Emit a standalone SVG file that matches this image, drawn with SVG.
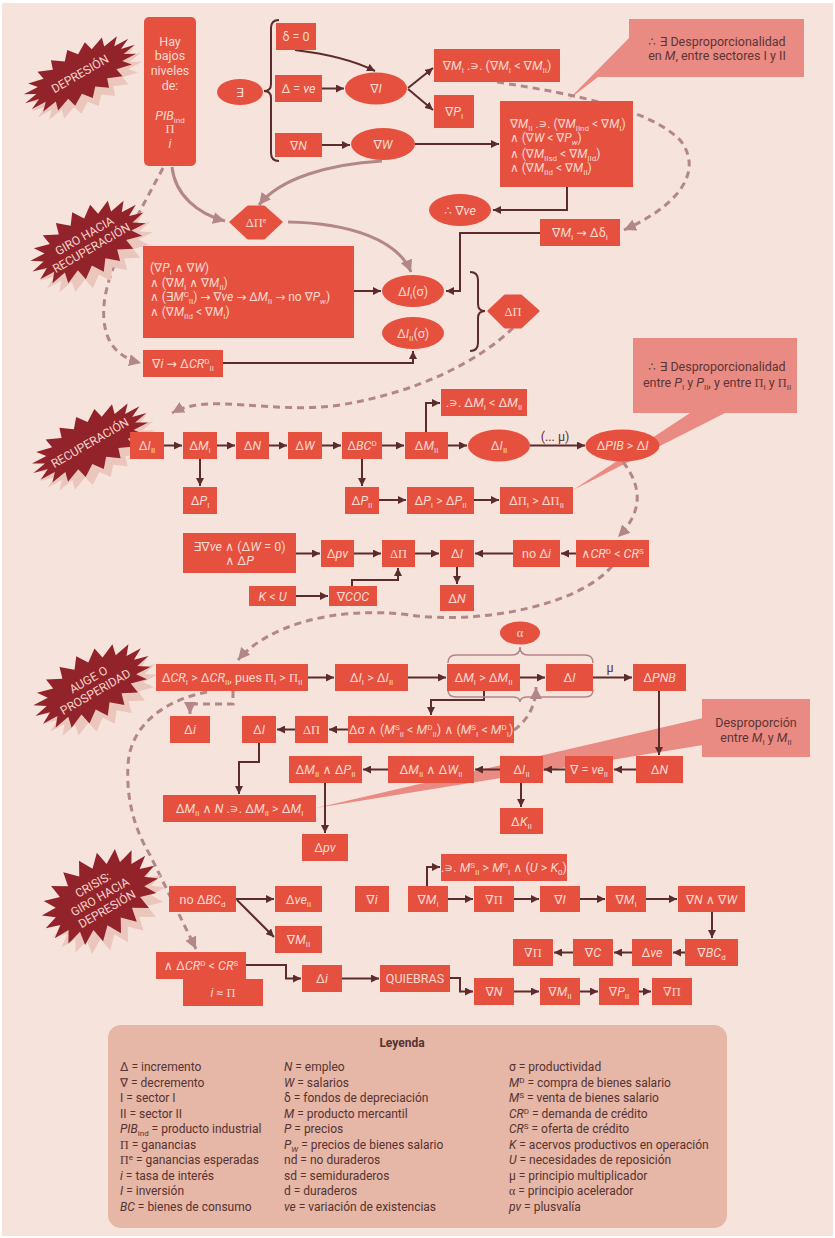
<svg xmlns="http://www.w3.org/2000/svg" width="835" height="1238" viewBox="0 0 835 1238">
<style>
.b{fill:#e6513f}
.t{font-family:Roboto,"Liberation Sans","DejaVu Sans",sans-serif;font-size:12.5px;fill:#fbd9cf;text-anchor:middle}
.tl{font-family:Roboto,"Liberation Sans","DejaVu Sans",sans-serif;font-size:12px;fill:#fbd9cf}
.i{font-style:italic}
.s{font-size:8px;baseline-shift:-2.5px}
.p{font-size:8px;baseline-shift:4px}
.g{font-family:"Liberation Serif","DejaVu Serif",serif}
.ar{font-family:"DejaVu Sans",sans-serif}
.c{stroke:#5c2b2b;stroke-width:2;fill:none;marker-end:url(#a)}
.d{stroke:#b3868a;stroke-width:3;fill:none;stroke-dasharray:7 5;marker-end:url(#m)}
.m{stroke:#b3868a;stroke-width:3;fill:none;marker-end:url(#m)}
.br{stroke:#5c2b2b;stroke-width:2;fill:none}
.bra{stroke:#b3868a;stroke-width:1.5;fill:none}
.co{fill:#ea8b83}
.ct{font-family:Roboto,"Liberation Sans","DejaVu Sans",sans-serif;font-size:12.5px;fill:#5c3434;text-anchor:middle}
.bu{fill:#93232b}
.sh{fill:#ebc6bc}
.bt{font-family:Roboto,"Liberation Sans","DejaVu Sans",sans-serif;font-size:12px;fill:#f5d3ca;text-anchor:middle}
.l{font-family:Roboto,"Liberation Sans","DejaVu Sans",sans-serif;font-size:12px;fill:#553330}
.dk{font-family:Roboto,"Liberation Sans","DejaVu Sans",sans-serif;font-size:12.5px;fill:#5c3434;text-anchor:middle}
</style>
<defs>
<marker id="a" viewBox="0 0 10 10" refX="10" refY="5" markerWidth="8" markerHeight="8" markerUnits="userSpaceOnUse" orient="auto"><path d="M0,0 L10,5 L0,10 Z" fill="#5c2b2b"/></marker>
<marker id="m" viewBox="0 0 10 10" refX="10" refY="5" markerWidth="12" markerHeight="12" markerUnits="userSpaceOnUse" orient="auto"><path d="M0,0 L10,5 L0,10 Z" fill="#b3868a"/></marker>
<path id="burst" d="M64,0 L49.4,3 L60.9,8.7 L44.6,8.6 L51.8,16.5 L35.4,13.4 L37.6,22.7 L22.7,16.9 L19.8,26.6 L7.8,18.8 L0,28 L-7.8,18.8 L-19.8,26.6 L-22.7,16.9 L-37.6,22.7 L-35.4,13.4 L-51.8,16.5 L-44.6,8.6 L-60.9,8.7 L-49.4,3 L-64,0 L-49.4,-3 L-60.9,-8.7 L-44.6,-8.6 L-51.8,-16.5 L-35.4,-13.4 L-37.6,-22.7 L-22.7,-16.9 L-19.8,-26.6 L-7.8,-18.8 L0,-28 L7.8,-18.8 L19.8,-26.6 L22.7,-16.9 L37.6,-22.7 L35.4,-13.4 L51.8,-16.5 L44.6,-8.6 L60.9,-8.7 L49.4,-3 Z"/>
</defs>
<rect x="0" y="0" width="835" height="1238" fill="#ffffff"/>
<rect x="2" y="3" width="831" height="1233" fill="#f5e3dc"/>

<g id="callout-tails">
<polygon class="co" points="629,38 568,100 598,77 629,77"/>
<polygon class="co" points="573,490 725,413 690,413"/>
<polygon class="co" points="316,808 703,718 703,745"/>
</g>

<g id="connectors">
<path class="c" d="M295,50 Q345,56 375,71"/>
<path class="c" d="M322,88.5 L344,88.5"/>
<path class="c" d="M322,145 L350,145"/>
<path class="c" d="M408,88 L433,68"/>
<path class="c" d="M408,89 L433,110"/>
<path class="c" d="M415,144 L499,144"/>
<path class="c" d="M567,187 L567,210 L493,210"/>
<path class="c" d="M540,233 L460,233 L460,291 L446,291"/>
<path class="c" d="M354,291 L381,291"/>
<path class="c" d="M223,363 L413,363 L413,351"/>
<path class="m" d="M172,167 C175,195 198,214 225,221"/>
<path class="m" d="M382,161 C330,164 280,178 259,205"/>
<path class="m" d="M288,222 C350,223 398,240 411,272"/>
<path class="d" d="M497,82 C580,95 650,110 680,140 C700,165 690,200 624,230"/>
<path class="d" d="M163,168 C130,230 100,280 104,320 C106,345 120,358 141,363"/>
<path class="d" d="M513,328 C480,360 420,392 340,405 C270,415 210,392 172,413"/>

<path class="c" d="M164,445.5 L182,445.5"/>
<path class="c" d="M217,445.5 L235,445.5"/>
<path class="c" d="M269,445.5 L287,445.5"/>
<path class="c" d="M322,445.5 L341,445.5"/>
<path class="c" d="M382,445.5 L404,445.5"/>
<path class="c" d="M448,445.5 L467,445.5"/>
<path class="c" d="M530,445.5 L585,445.5"/>
<path class="c" d="M426,432 L426,403 L440,403"/>
<path class="c" d="M200,459 L200,486"/>
<path class="c" d="M362,459 L362,486"/>
<path class="c" d="M379,500 L406,500"/>
<path class="c" d="M474,500 L499,500"/>
<path class="c" d="M296,553.5 L320,553.5"/>
<path class="c" d="M354,553.5 L381,553.5"/>
<path class="c" d="M415,553.5 L439,553.5"/>
<path class="c" d="M513,553.5 L475,553.5"/>
<path class="c" d="M576,553.5 L561,553.5"/>
<path class="c" d="M457,567 L457,584"/>
<path class="c" d="M296,596 L328,596"/>
<path class="c" d="M352,586 L352,580 L398,580 L398,568"/>
<path class="d" d="M623,462 C645,490 640,515 618,537"/>
<path class="d" d="M612,566 C580,605 480,625 410,615 C330,605 265,628 238,660"/>

<path class="c" d="M308,677.5 L334,677.5"/>
<path class="c" d="M408,677.5 L446,677.5"/>
<path class="c" d="M520,677.5 L545,677.5"/>
<path class="c" d="M593,677.5 L632,677.5"/>
<path class="c" d="M484,691 L484,700 L431,700 L431,715"/>
<path class="c" d="M348,729.5 L329,729.5"/>
<path class="c" d="M295,729.5 L277,729.5"/>
<path class="c" d="M259,743 L259,762 L239,762 L239,794"/>
<path class="c" d="M659,691 L659,755"/>
<path class="c" d="M636,769.5 L614,769.5"/>
<path class="c" d="M565,769.5 L544,769.5"/>
<path class="c" d="M500,769.5 L475,769.5"/>
<path class="c" d="M388,769.5 L363,769.5"/>
<path class="c" d="M521,783 L521,807"/>
<path class="c" d="M325,783 L325,833"/>
<path class="d" d="M233,691 L233,704 L190,704 L190,714"/>
<path class="d" d="M514,730 C528,720 536,705 536,687"/>
<path class="d" d="M207,692 C165,700 130,725 128,765 C126,800 135,830 150,855 L196,949"/>
<path class="bra" d="M448,663 Q448,655 456,655 L512,655 Q520,655 520,647 Q520,655 528,655 L585,655 Q593,655 593,663"/>
<path class="bra" d="M448,690 Q448,697 456,697 L512,697 Q520,697 520,702 Q520,697 528,697 L585,697 Q593,697 593,690"/>

<path class="c" d="M236,899 L274,899"/>
<path class="c" d="M237,900 L274,937"/>
<path class="c" d="M427,886 L427,867 L440,867"/>
<path class="c" d="M448,899 L473,899"/>
<path class="c" d="M514,899 L539,899"/>
<path class="c" d="M580,899 L605,899"/>
<path class="c" d="M646,899 L677,899"/>
<path class="c" d="M712,912 L712,938"/>
<path class="c" d="M685,952.5 L673,952.5"/>
<path class="c" d="M632,952.5 L614,952.5"/>
<path class="c" d="M573,952.5 L554,952.5"/>
<path class="c" d="M246,965 L286,965 L286,978.5 L301,978.5"/>
<path class="c" d="M342,978.5 L379,978.5"/>
<path class="c" d="M450,978 L460,978 L460,991.5 L473,991.5"/>
<path class="c" d="M514,991.5 L539,991.5"/>
<path class="c" d="M580,991.5 L598,991.5"/>
<path class="c" d="M639,991.5 L651,991.5"/>

<path class="br" d="M279,20 Q271,20 271,28 L271,84 Q271,91 264,91 Q271,91 271,98 L271,153 Q271,161 279,161"/>
<path class="br" d="M470,272 Q478,272 478,280 L478,304 Q478,311 485,311 Q478,311 478,318 L478,343 Q478,351 470,351"/>
<text class="dk" x="555" y="441">(... μ)</text>
<text class="dk" x="610" y="672">μ</text>
</g>

<!-- Starbursts -->
<g id="burst-depresion">
<use href="#burst" class="sh" transform="translate(86,82) rotate(-28) scale(0.97)"/>
<use href="#burst" class="bu" transform="translate(80,74) rotate(-28) scale(0.97)"/>
<text class="bt" transform="translate(80,74) rotate(-30)"><tspan x="0" y="4">DEPRESIÓN</tspan></text>
</g>
<g id="burst-giro">
<use href="#burst" class="sh" transform="translate(95,251) rotate(-28) scale(0.98,1.2)"/>
<use href="#burst" class="bu" transform="translate(88,242) rotate(-28) scale(0.98,1.2)"/>
<text class="bt" transform="translate(88,242) rotate(-30)"><tspan x="0" y="-3">GIRO HACIA</tspan><tspan x="0" y="11">RECUPERACIÓN</tspan></text>
</g>
<g id="burst-recuperacion">
<use href="#burst" class="sh" transform="translate(97,451) rotate(-28) scale(1,1.05)"/>
<use href="#burst" class="bu" transform="translate(90,443) rotate(-28) scale(1,1.05)"/>
<text class="bt" transform="translate(90,443) rotate(-30)"><tspan x="0" y="4">RECUPERACIÓN</tspan></text>
</g>
<g id="burst-auge">
<use href="#burst" class="sh" transform="translate(99,694) rotate(-28) scale(1,1.2)"/>
<use href="#burst" class="bu" transform="translate(92,686) rotate(-28) scale(1,1.2)"/>
<text class="bt" transform="translate(92,686) rotate(-30)"><tspan x="0" y="-3">AUGE O</tspan><tspan x="0" y="11">PROSPERIDAD</tspan></text>
</g>
<g id="burst-crisis">
<use href="#burst" class="sh" transform="translate(107,906) rotate(-30) scale(0.98,1.5)"/>
<use href="#burst" class="bu" transform="translate(100,897) rotate(-30) scale(0.98,1.5)"/>
<text class="bt" transform="translate(100,897) rotate(-30)"><tspan x="0" y="-10">CRISIS:</tspan><tspan x="0" y="4">GIRO HACIA</tspan><tspan x="0" y="18">DEPRESIÓN</tspan></text>
</g>

<!-- Section 1 -->
<g id="n-hay"><rect class="b" x="144" y="17" width="52" height="149" rx="5"/>
<text class="t" x="170" y="46">Hay</text><text class="t" x="170" y="60">bajos</text><text class="t" x="170" y="75">niveles</text><text class="t" x="170" y="90">de:</text>
<text class="t" x="170" y="120"><tspan class="i">PIB</tspan><tspan class="s">ind</tspan></text><text class="t g" x="170" y="133">Π</text><text class="t i" x="170" y="148">i</text></g>
<g id="n-exists"><ellipse class="b" cx="240" cy="92" rx="23" ry="13"/><text class="t" x="240" y="96.5">∃</text></g>
<g id="n-delta0"><rect class="b" x="276" y="23" width="40" height="27"/><text class="t" x="296" y="41">δ = 0</text></g>
<g id="n-dve"><rect class="b" x="275" y="75" width="47" height="27"/><text class="t" x="298.5" y="93">Δ = <tspan class="i">ve</tspan></text></g>
<g id="n-dN"><rect class="b" x="275" y="133" width="47" height="24"/><text class="t" x="298.5" y="149.5">∇<tspan class="i">N</tspan></text></g>
<g id="n-dI"><ellipse class="b" cx="376" cy="88.5" rx="31" ry="16"/><text class="t" x="376" y="93">∇<tspan class="i">I</tspan></text></g>
<g id="n-dW"><ellipse class="b" cx="383" cy="144" rx="32" ry="16"/><text class="t" x="383" y="148.5">∇<tspan class="i">W</tspan></text></g>
<g id="n-dMI"><rect class="b" x="434" y="49" width="126" height="33"/><text class="t" x="497" y="70">∇<tspan class="i">M</tspan><tspan class="s">I</tspan> .∍. (∇<tspan class="i">M</tspan><tspan class="s">I</tspan> &lt; ∇<tspan class="i">M</tspan><tspan class="s">II</tspan>)</text></g>
<g id="n-dPI"><rect class="b" x="434" y="95" width="40" height="33"/><text class="t" x="454" y="116">∇<tspan class="i">P</tspan><tspan class="s">I</tspan></text></g>
<g id="n-big1"><rect class="b" x="500" y="101" width="133" height="86"/>
<text class="tl" x="510" y="127.5">∇<tspan class="i">M</tspan><tspan class="s">II</tspan> .∍. (∇<tspan class="i">M</tspan><tspan class="s">IInd</tspan> &lt; ∇<tspan class="i">M</tspan><tspan class="s">I</tspan>)</text>
<text class="tl" x="510" y="141.5">∧ (∇<tspan class="i">W</tspan> &lt; ∇<tspan class="i">P</tspan><tspan class="s i">w</tspan>)</text>
<text class="tl" x="510" y="157.5">∧ (∇<tspan class="i">M</tspan><tspan class="s">IIsd</tspan> &lt; ∇<tspan class="i">M</tspan><tspan class="s">IId</tspan>)</text>
<text class="tl" x="510" y="171.5">∧ (∇<tspan class="i">M</tspan><tspan class="s">IId</tspan> &lt; ∇<tspan class="i">M</tspan><tspan class="s">II</tspan>)</text></g>
<g id="n-therefore-ve"><ellipse class="b" cx="460" cy="210" rx="31" ry="16"/><text class="t" x="460" y="214.5">∴ ∇<tspan class="i">ve</tspan></text></g>
<g id="n-dMIdd"><rect class="b" x="540" y="219" width="80" height="27"/><text class="t" x="580" y="237">∇<tspan class="i">M</tspan><tspan class="s">I</tspan> <tspan class="ar">→</tspan> Δδ<tspan class="s">I</tspan></text></g>
<g id="callout1"><rect class="co" x="629" y="19" width="175" height="58"/><text class="ct" x="717" y="45.5">∴ ∃ Desproporcionalidad</text><text class="ct" x="717" y="59.5">en <tspan class="i">M</tspan>, entre sectores I y II</text></g>
<g id="n-dPie"><path class="b" d="M231,222 L248,207 L264,207 L281,222 L264,238 L248,238 Z" stroke="#e6513f" stroke-width="3" stroke-linejoin="round"/><text class="t g" x="256" y="226.5">ΔΠ<tspan class="p">e</tspan></text></g>
<g id="n-left1"><rect class="b" x="143" y="246" width="211" height="92"/>
<text class="tl" x="150" y="272">(∇<tspan class="i">P</tspan><tspan class="s">I</tspan> ∧ ∇<tspan class="i">W</tspan>)</text>
<text class="tl" x="150" y="287">∧ (∇<tspan class="i">M</tspan><tspan class="s">I</tspan> ∧ ∇<tspan class="i">M</tspan><tspan class="s">II</tspan>)</text>
<text class="tl" x="150" y="301">∧ (∃<tspan class="i">M</tspan><tspan class="p">C</tspan><tspan class="s">II</tspan>) <tspan class="ar">→</tspan> ∇<tspan class="i">ve</tspan> <tspan class="ar">→</tspan> Δ<tspan class="i">M</tspan><tspan class="s">II</tspan> <tspan class="ar">→</tspan> no ∇<tspan class="i">P</tspan><tspan class="s i">w</tspan>)</text>
<text class="tl" x="150" y="316">∧ (∇<tspan class="i">M</tspan><tspan class="s">IId</tspan> &lt; ∇<tspan class="i">M</tspan><tspan class="s">I</tspan>)</text></g>
<g id="n-dII-s"><ellipse class="b" cx="413" cy="291" rx="31" ry="16"/><text class="t" x="413" y="295.5">Δ<tspan class="i">I</tspan><tspan class="s">I</tspan>(σ)</text></g>
<g id="n-dIII-s"><ellipse class="b" cx="413" cy="333" rx="31" ry="16"/><text class="t" x="413" y="337.5">Δ<tspan class="i">I</tspan><tspan class="s">II</tspan>(σ)</text></g>
<g id="n-dPi"><path class="b" d="M489,311 L505,296 L521,296 L538,311 L521,327 L505,327 Z" stroke="#e6513f" stroke-width="3" stroke-linejoin="round"/><text class="t g" x="513" y="315.5">ΔΠ</text></g>
<g id="n-di-cr"><rect class="b" x="143" y="350" width="80" height="27"/><text class="t" x="183" y="368">∇<tspan class="i">i</tspan> <tspan class="ar">→</tspan> Δ<tspan class="i">CR</tspan><tspan class="p">D</tspan><tspan class="s">II</tspan></text></g>

<!-- Section 2 -->
<g id="n-r-dIII"><rect class="b" x="130" y="432" width="34" height="27"/><text class="t" x="147" y="450">Δ<tspan class="i">I</tspan><tspan class="s">II</tspan></text></g>
<g id="n-r-dMI"><rect class="b" x="183" y="432" width="34" height="27"/><text class="t" x="200" y="450">Δ<tspan class="i">M</tspan><tspan class="s">I</tspan></text></g>
<g id="n-r-dN"><rect class="b" x="236" y="432" width="33" height="27"/><text class="t" x="252.5" y="450">Δ<tspan class="i">N</tspan></text></g>
<g id="n-r-dW"><rect class="b" x="288" y="432" width="34" height="27"/><text class="t" x="305" y="450">Δ<tspan class="i">W</tspan></text></g>
<g id="n-r-dBC"><rect class="b" x="342" y="432" width="40" height="27"/><text class="t" x="362" y="450">Δ<tspan class="i">BC</tspan><tspan class="p">D</tspan></text></g>
<g id="n-r-dMII"><rect class="b" x="405" y="432" width="43" height="27"/><text class="t" x="426.5" y="450">Δ<tspan class="i">M</tspan><tspan class="s">II</tspan></text></g>
<g id="n-r-st"><rect class="b" x="441" y="389" width="86" height="27"/><text class="t" x="484" y="407">.∍. Δ<tspan class="i">M</tspan><tspan class="s">I</tspan> &lt; Δ<tspan class="i">M</tspan><tspan class="s">II</tspan></text></g>
<g id="n-r-eIII"><ellipse class="b" cx="499" cy="445.5" rx="31" ry="16"/><text class="t" x="499" y="450">Δ<tspan class="i">I</tspan><tspan class="s">II</tspan></text></g>
<g id="n-r-pib"><ellipse class="b" cx="622.5" cy="445.5" rx="37" ry="16"/><text class="t" x="622.5" y="450">Δ<tspan class="i">PIB</tspan> &gt; Δ<tspan class="i">I</tspan></text></g>
<g id="n-r-dPI"><rect class="b" x="183" y="487" width="34" height="27"/><text class="t" x="200" y="505">Δ<tspan class="i">P</tspan><tspan class="s">I</tspan></text></g>
<g id="n-r-dPII"><rect class="b" x="345" y="487" width="34" height="27"/><text class="t" x="362" y="505">Δ<tspan class="i">P</tspan><tspan class="s">II</tspan></text></g>
<g id="n-r-pcmp"><rect class="b" x="407" y="487" width="67" height="27"/><text class="t" x="440.5" y="505">Δ<tspan class="i">P</tspan><tspan class="s">I</tspan> &gt; Δ<tspan class="i">P</tspan><tspan class="s">II</tspan></text></g>
<g id="n-r-picmp"><rect class="b" x="500" y="487" width="73" height="27"/><text class="t" x="536.5" y="505">Δ<tspan class="g">Π</tspan><tspan class="s">I</tspan> &gt; Δ<tspan class="g">Π</tspan><tspan class="s">II</tspan></text></g>
<g id="callout2"><rect class="co" x="633" y="338" width="164" height="75"/><text class="ct" x="717" y="371">∴ ∃ Desproporcionalidad</text><text class="ct" x="717" y="387">entre <tspan class="i">P</tspan><tspan class="s">I</tspan> y <tspan class="i">P</tspan><tspan class="s">II</tspan>, y entre <tspan class="g">Π</tspan><tspan class="s">I</tspan> y <tspan class="g">Π</tspan><tspan class="s">II</tspan></text></g>
<g id="n-r-exve"><rect class="b" x="183" y="533" width="113" height="40"/><text class="t" x="239.5" y="551">∃∇<tspan class="i">ve</tspan> ∧ (Δ<tspan class="i">W</tspan> = 0)</text><text class="t" x="239.5" y="565">∧ Δ<tspan class="i">P</tspan></text></g>
<g id="n-r-dpv"><rect class="b" x="321" y="540" width="33" height="27"/><text class="t" x="337.5" y="558">Δ<tspan class="i">pv</tspan></text></g>
<g id="n-r-dPi"><rect class="b" x="382" y="540" width="33" height="27"/><text class="t g" x="398.5" y="558">ΔΠ</text></g>
<g id="n-r-dI"><rect class="b" x="440" y="540" width="34" height="27"/><text class="t" x="457" y="558">Δ<tspan class="i">I</tspan></text></g>
<g id="n-r-nodi"><rect class="b" x="513" y="540" width="47" height="27"/><text class="t" x="536.5" y="558">no Δ<tspan class="i">i</tspan></text></g>
<g id="n-r-cr"><rect class="b" x="576" y="540" width="73" height="27"/><text class="t" x="612.5" y="558">∧<tspan class="i">CR</tspan><tspan class="p">D</tspan> &lt; <tspan class="i">CR</tspan><tspan class="p">S</tspan></text></g>
<g id="n-r-dN2"><rect class="b" x="440" y="585" width="34" height="26"/><text class="t" x="457" y="602.5">Δ<tspan class="i">N</tspan></text></g>
<g id="n-r-ku"><rect class="b" x="249" y="586" width="47" height="20"/><text class="t" x="272.5" y="600.5"><tspan class="i">K</tspan> &lt; <tspan class="i">U</tspan></text></g>
<g id="n-r-coc"><rect class="b" x="329" y="586" width="48" height="20"/><text class="t" x="353" y="600.5">∇<tspan class="i">COC</tspan></text></g>

<!-- Section 3 -->
<g id="n-a-cr"><rect class="b" x="156" y="664" width="152" height="27"/><text class="t" x="232" y="682">Δ<tspan class="i">CR</tspan><tspan class="s">I</tspan> &gt; Δ<tspan class="i">CR</tspan><tspan class="s">II</tspan>, pues <tspan class="g">Π</tspan><tspan class="s">I</tspan> &gt; <tspan class="g">Π</tspan><tspan class="s">II</tspan></text></g>
<g id="n-a-icmp"><rect class="b" x="335" y="664" width="73" height="27"/><text class="t" x="371.5" y="682">Δ<tspan class="i">I</tspan><tspan class="s">I</tspan> &gt; Δ<tspan class="i">I</tspan><tspan class="s">II</tspan></text></g>
<g id="n-a-mcmp"><rect class="b" x="447" y="664" width="73" height="27"/><text class="t" x="483.5" y="682">Δ<tspan class="i">M</tspan><tspan class="s">I</tspan> &gt; Δ<tspan class="i">M</tspan><tspan class="s">II</tspan></text></g>
<g id="n-a-dI"><rect class="b" x="546" y="664" width="47" height="27"/><text class="t" x="569.5" y="682">Δ<tspan class="i">I</tspan></text></g>
<g id="n-a-pnb"><rect class="b" x="633" y="664" width="53" height="27"/><text class="t" x="659.5" y="682">Δ<tspan class="i">PNB</tspan></text></g>
<g id="n-a-alpha"><ellipse class="b" cx="520" cy="633" rx="20" ry="11.5"/><text class="t g" x="520" y="637">α</text></g>
<g id="n-a-di"><rect class="b" x="170" y="716" width="40" height="27"/><text class="t" x="190" y="734">Δ<tspan class="i">i</tspan></text></g>
<g id="n-a-dI2"><rect class="b" x="242" y="716" width="34" height="27"/><text class="t" x="259" y="734">Δ<tspan class="i">I</tspan></text></g>
<g id="n-a-dPi"><rect class="b" x="295" y="716" width="33" height="27"/><text class="t g" x="311.5" y="734">ΔΠ</text></g>
<g id="n-a-sigma"><rect class="b" x="348" y="716" width="166" height="27"/><text class="t" x="431" y="734">Δσ ∧ (<tspan class="i">M</tspan><tspan class="p">S</tspan><tspan class="s">II</tspan> &lt; <tspan class="i">M</tspan><tspan class="p">D</tspan><tspan class="s">II</tspan>) ∧ (<tspan class="i">M</tspan><tspan class="p">S</tspan><tspan class="s">I</tspan> &lt; <tspan class="i">M</tspan><tspan class="p">D</tspan><tspan class="s">I</tspan>)</text></g>
<g id="n-a-mp"><rect class="b" x="289" y="756" width="73" height="27"/><text class="t" x="325.5" y="774">Δ<tspan class="i">M</tspan><tspan class="s">II</tspan> ∧ Δ<tspan class="i">P</tspan><tspan class="s">II</tspan></text></g>
<g id="n-a-mw"><rect class="b" x="388" y="756" width="86" height="27"/><text class="t" x="431" y="774">Δ<tspan class="i">M</tspan><tspan class="s">II</tspan> ∧ Δ<tspan class="i">W</tspan><tspan class="s">II</tspan></text></g>
<g id="n-a-dIII"><rect class="b" x="500" y="756" width="43" height="27"/><text class="t" x="521.5" y="774">Δ<tspan class="i">I</tspan><tspan class="s">II</tspan></text></g>
<g id="n-a-veII"><rect class="b" x="565" y="756" width="48" height="27"/><text class="t" x="589" y="774">∇ = <tspan class="i">ve</tspan><tspan class="s">II</tspan></text></g>
<g id="n-a-dN"><rect class="b" x="636" y="756" width="47" height="27"/><text class="t" x="659.5" y="774">Δ<tspan class="i">N</tspan></text></g>
<g id="n-a-dK"><rect class="b" x="500" y="808" width="43" height="26"/><text class="t" x="521.5" y="825.5">Δ<tspan class="i">K</tspan><tspan class="s">II</tspan></text></g>
<g id="n-a-mn"><rect class="b" x="163" y="795" width="153" height="27"/><text class="t" x="239.5" y="813">Δ<tspan class="i">M</tspan><tspan class="s">II</tspan> ∧ <tspan class="i">N</tspan> .∍. Δ<tspan class="i">M</tspan><tspan class="s">II</tspan> &gt; Δ<tspan class="i">M</tspan><tspan class="s">I</tspan></text></g>
<g id="n-a-dpv"><rect class="b" x="302" y="834" width="46" height="27"/><text class="t" x="325" y="852">Δ<tspan class="i">pv</tspan></text></g>
<g id="callout3"><rect class="co" x="702" y="699" width="108" height="58"/><text class="ct" x="756" y="727">Desproporción</text><text class="ct" x="756" y="742">entre <tspan class="i">M</tspan><tspan class="s">I</tspan> y <tspan class="i">M</tspan><tspan class="s">II</tspan></text></g>

<!-- Section 4 -->
<g id="n-c-nobc"><rect class="b" x="169" y="886" width="67" height="26"/><text class="t" x="202.5" y="903.5">no Δ<tspan class="i">BC</tspan><tspan class="s">d</tspan></text></g>
<g id="n-c-veII"><rect class="b" x="275" y="886" width="47" height="26"/><text class="t" x="298.5" y="903.5">Δ<tspan class="i">ve</tspan><tspan class="s">II</tspan></text></g>
<g id="n-c-MII"><rect class="b" x="275" y="926" width="47" height="27"/><text class="t" x="298.5" y="944">∇<tspan class="i">M</tspan><tspan class="s">II</tspan></text></g>
<g id="n-c-di"><rect class="b" x="355" y="886" width="34" height="26"/><text class="t" x="372" y="903.5">∇<tspan class="i">i</tspan></text></g>
<g id="n-c-MI"><rect class="b" x="408" y="886" width="40" height="26"/><text class="t" x="428" y="903.5">∇<tspan class="i">M</tspan><tspan class="s">I</tspan></text></g>
<g id="n-c-st"><rect class="b" x="441" y="854" width="126" height="27"/><text class="t" x="504" y="872">.∍. <tspan class="i">M</tspan><tspan class="p">S</tspan><tspan class="s">II</tspan> &gt; <tspan class="i">M</tspan><tspan class="p">D</tspan><tspan class="s">I</tspan> ∧ (<tspan class="i">U</tspan> &gt; <tspan class="i">K</tspan><tspan class="s">0</tspan>)</text></g>
<g id="n-c-Pi1"><rect class="b" x="474" y="886" width="40" height="26"/><text class="t g" x="494" y="903.5">∇Π</text></g>
<g id="n-c-I"><rect class="b" x="540" y="886" width="40" height="26"/><text class="t" x="560" y="903.5">∇<tspan class="i">I</tspan></text></g>
<g id="n-c-MI2"><rect class="b" x="606" y="886" width="40" height="26"/><text class="t" x="626" y="903.5">∇<tspan class="i">M</tspan><tspan class="s">I</tspan></text></g>
<g id="n-c-NW"><rect class="b" x="678" y="886" width="67" height="26"/><text class="t" x="711.5" y="903.5">∇<tspan class="i">N</tspan> ∧ ∇<tspan class="i">W</tspan></text></g>
<g id="n-c-BC"><rect class="b" x="685" y="939" width="53" height="27"/><text class="t" x="711.5" y="957">∇<tspan class="i">BC</tspan><tspan class="s">d</tspan></text></g>
<g id="n-c-dve"><rect class="b" x="632" y="939" width="40" height="27"/><text class="t" x="652" y="957">Δ<tspan class="i">ve</tspan></text></g>
<g id="n-c-C"><rect class="b" x="573" y="939" width="40" height="27"/><text class="t" x="593" y="957">∇<tspan class="i">C</tspan></text></g>
<g id="n-c-Pi2"><rect class="b" x="513" y="939" width="40" height="27"/><text class="t g" x="533" y="957">∇Π</text></g>
<g id="n-c-cr"><rect class="b" x="156" y="952" width="90" height="27"/><text class="t" x="201" y="970">∧ Δ<tspan class="i">CR</tspan><tspan class="p">D</tspan> &lt; <tspan class="i">CR</tspan><tspan class="p">S</tspan></text></g>
<g id="n-c-ipi"><rect class="b" x="183" y="979" width="80" height="27"/><text class="t" x="223" y="997"><tspan class="i">i</tspan> ≈ <tspan class="g">Π</tspan></text></g>
<g id="n-c-di2"><rect class="b" x="302" y="965" width="40" height="27"/><text class="t" x="322" y="983">Δ<tspan class="i">i</tspan></text></g>
<g id="n-c-quiebras"><rect class="b" x="380" y="965" width="70" height="27"/><text class="t" x="415" y="983">QUIEBRAS</text></g>
<g id="n-c-N"><rect class="b" x="474" y="978" width="40" height="27"/><text class="t" x="494" y="996">∇<tspan class="i">N</tspan></text></g>
<g id="n-c-MII2"><rect class="b" x="540" y="978" width="40" height="27"/><text class="t" x="560" y="996">∇<tspan class="i">M</tspan><tspan class="s">II</tspan></text></g>
<g id="n-c-PII"><rect class="b" x="599" y="978" width="40" height="27"/><text class="t" x="619" y="996">∇<tspan class="i">P</tspan><tspan class="s">II</tspan></text></g>
<g id="n-c-Pi3"><rect class="b" x="652" y="978" width="40" height="27"/><text class="t g" x="672" y="996">∇Π</text></g>

<!-- Legend -->
<g id="legend">
<rect x="108" y="1025" width="619" height="203" rx="13" fill="#e6b6a7"/>
<text class="l" x="402" y="1047" text-anchor="middle" font-weight="bold">Leyenda</text>
<text class="l" x="120" y="1071">Δ = incremento</text>
<text class="l" x="120" y="1086.5">∇ = decremento</text>
<text class="l" x="120" y="1102">I = sector I</text>
<text class="l" x="120" y="1117.5">II = sector II</text>
<text class="l" x="120" y="1133"><tspan class="i">PIB</tspan><tspan class="s">ind</tspan> = producto industrial</text>
<text class="l" x="120" y="1148.5"><tspan class="g">Π</tspan> = ganancias</text>
<text class="l" x="120" y="1164"><tspan class="g">Π</tspan><tspan class="p">e</tspan> = ganancias esperadas</text>
<text class="l" x="120" y="1179.5"><tspan class="i">i</tspan> = tasa de interés</text>
<text class="l" x="120" y="1195"><tspan class="i">I</tspan> = inversión</text>
<text class="l" x="120" y="1210.5"><tspan class="i">BC</tspan> = bienes de consumo</text>
<text class="l" x="284" y="1071"><tspan class="i">N</tspan> = empleo</text>
<text class="l" x="284" y="1086.5"><tspan class="i">W</tspan> = salarios</text>
<text class="l" x="284" y="1102">δ = fondos de depreciación</text>
<text class="l" x="284" y="1117.5"><tspan class="i">M</tspan> = producto mercantil</text>
<text class="l" x="284" y="1133"><tspan class="i">P</tspan> = precios</text>
<text class="l" x="284" y="1148.5"><tspan class="i">P</tspan><tspan class="s i">W</tspan> = precios de bienes salario</text>
<text class="l" x="284" y="1164">nd = no duraderos</text>
<text class="l" x="284" y="1179.5">sd = semiduraderos</text>
<text class="l" x="284" y="1195">d = duraderos</text>
<text class="l" x="284" y="1210.5"><tspan class="i">ve</tspan> = variación de existencias</text>
<text class="l" x="509" y="1071">σ = productividad</text>
<text class="l" x="509" y="1086.5"><tspan class="i">M</tspan><tspan class="p">D</tspan> = compra de bienes salario</text>
<text class="l" x="509" y="1102"><tspan class="i">M</tspan><tspan class="p">S</tspan> = venta de bienes salario</text>
<text class="l" x="509" y="1117.5"><tspan class="i">CR</tspan><tspan class="p">D</tspan> = demanda de crédito</text>
<text class="l" x="509" y="1133"><tspan class="i">CR</tspan><tspan class="p">S</tspan> = oferta de crédito</text>
<text class="l" x="509" y="1148.5"><tspan class="i">K</tspan> = acervos productivos en operación</text>
<text class="l" x="509" y="1164"><tspan class="i">U</tspan> = necesidades de reposición</text>
<text class="l" x="509" y="1179.5">μ = principio multiplicador</text>
<text class="l" x="509" y="1195"><tspan class="g">α</tspan> = principio acelerador</text>
<text class="l" x="509" y="1210.5"><tspan class="i">pv</tspan> = plusvalía</text>
</g>
</svg>
